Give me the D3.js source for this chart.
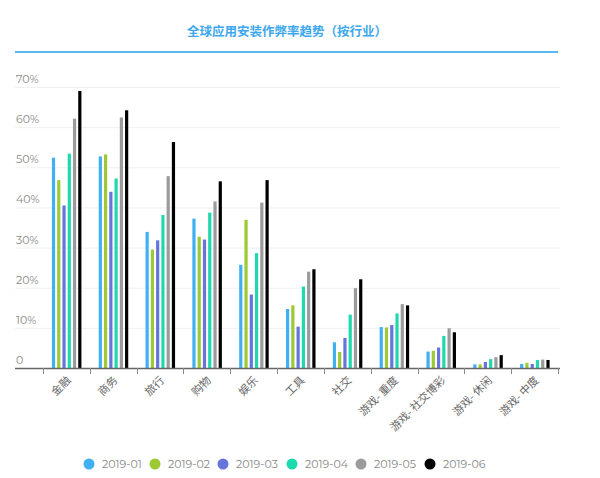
<!DOCTYPE html>
<html><head><meta charset="utf-8">
<script src="https://cdn.jsdelivr.net/npm/d3@7"></script>
<style>body{margin:0;background:#fff;} svg{display:block;}</style>
</head><body><svg id="c" width="600" height="478"></svg>
<script>
const categories = ["金融","商务","旅行","购物","娱乐","工具","社交","游戏- 重度","游戏- 社交博彩","游戏- 休闲","游戏- 中度"];
const seriesNames = ["2019-01","2019-02","2019-03","2019-04","2019-05","2019-06"];
const s201901 = [52.4,52.7,33.9,37.2,25.7,14.7,6.4,10.2,4.1,0.9,1.0];
const s201902 = [46.8,53.2,29.5,32.7,36.9,15.6,4.0,10.1,4.3,0.9,1.3];
const s201903 = [40.5,43.9,31.8,32.0,18.3,10.3,7.5,10.7,5.1,1.5,1.0];
const s201904 = [53.4,47.2,38.1,38.7,28.6,20.3,13.3,13.6,8.0,2.2,2.0];
const s201905 = [62.1,62.4,47.8,41.5,41.2,24.0,19.9,15.9,9.9,2.7,2.1];
const s201906 = [69.0,64.2,56.3,46.5,46.8,24.6,22.1,15.6,8.9,3.2,2.0];
const yTicks = [0,10,20,30,40,50,60,70];
const colors = ["#3fb0f2","#9cc934","#6675dc","#1ed8ae","#9b9b9b","#000000"];
const series = [s201901,s201902,s201903,s201904,s201905,s201906];

const svg = d3.select("#c");
const font = "Montserrat, 'Open Sans', 'Noto Sans CJK SC', sans-serif";

// title
svg.append("text").attr("x",287).attr("y",36).attr("text-anchor","middle")
  .attr("font-family","'Noto Sans CJK SC', sans-serif").attr("font-weight","bold")
  .attr("font-size",12.5).attr("fill","#3ea8ee").text("全球应用安装作弊率趋势（按行业）");
svg.append("line").attr("x1",15).attr("x2",558).attr("y1",52).attr("y2",52)
  .attr("stroke","#5ab8f0").attr("stroke-width",2);

const x = d3.scaleBand().domain(categories).range([43,558]).paddingInner(0).paddingOuter(0);
const y = d3.scaleLinear().domain([0,70]).range([368,87]);
const xs = d3.scaleBand().domain(d3.range(6)).range([0,30]).paddingInner(0.3);

// grid
svg.append("g").selectAll("line").data(yTicks.slice(1)).join("line")
  .attr("x1",15).attr("x2",560).attr("y1",d=>y(d)+0.5).attr("y2",d=>y(d)+0.5)
  .attr("stroke","#f0f0f0").attr("stroke-width",1);

// y labels
svg.append("g").selectAll("text").data(yTicks).join("text")
  .attr("x",16).attr("y",d=>y(d)-4).attr("font-family",font).attr("font-size",11)
  .attr("fill","#888").text(d=>d===0?"0":d+"%");

// bars
series.forEach((s,si)=>{
  svg.append("g").selectAll("rect").data(s).join("rect")
    .attr("x",(d,i)=>x(categories[i])+x.bandwidth()/2-15+xs(si)+0.5)
    .attr("width",3.2)
    .attr("y",d=>y(d)).attr("height",d=>y(0)-y(d)).attr("fill",colors[si]);
});

// x axis
svg.append("line").attr("x1",15).attr("x2",560).attr("y1",368.5).attr("y2",368.5)
  .attr("stroke","#666").attr("stroke-width",1.5);
const ticks = categories.map(c=>x(c)).concat([x(categories[categories.length-1])+x.bandwidth()]);
svg.append("g").selectAll("line").data(ticks).join("line")
  .attr("x1",d=>Math.round(d)+0.5).attr("x2",d=>Math.round(d)+0.5).attr("y1",368).attr("y2",374)
  .attr("stroke","#888").attr("stroke-width",1);
svg.append("g").selectAll("text").data(categories).join("text")
  .attr("transform",d=>`translate(${x(d)+x.bandwidth()/2+5},${381}) rotate(-45)`)
  .attr("text-anchor","end").attr("font-family","'Noto Sans CJK SC', sans-serif")
  .attr("font-size",11).attr("fill","#666").text(d=>d);

// legend
const lx = [89,155,223,292,361,430];
const lg = svg.append("g").selectAll("g").data(seriesNames).join("g")
  .attr("transform",(d,i)=>`translate(${lx[i]},464)`);
lg.append("circle").attr("r",5.5).attr("fill",(d,i)=>colors[i]);
lg.append("text").attr("x",13).attr("y",4).attr("font-family",font).attr("font-size",11)
  .attr("fill","#888").text(d=>d);
</script></body></html>
